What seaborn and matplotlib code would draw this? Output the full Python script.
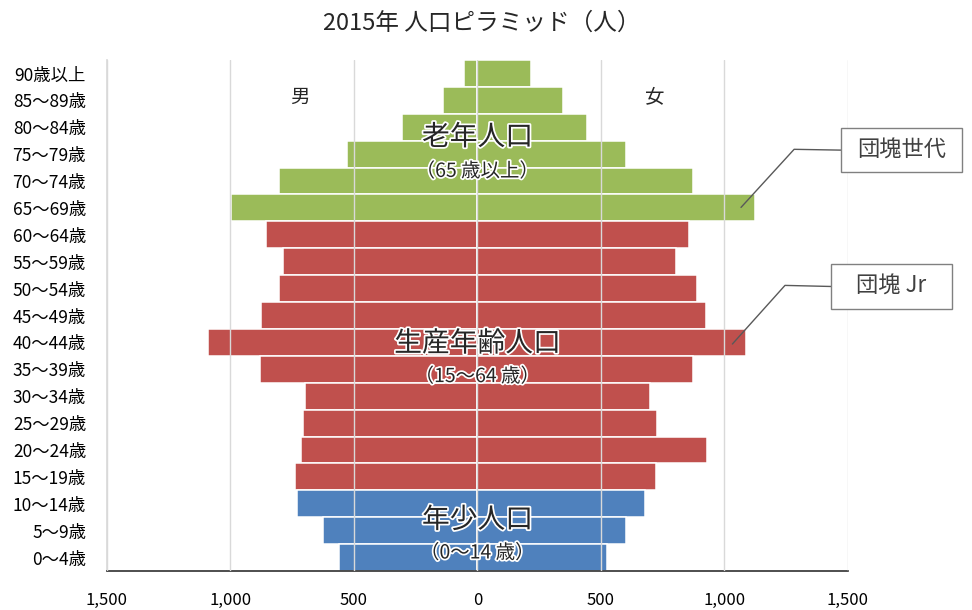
import matplotlib
matplotlib.use('Agg')
import matplotlib.pyplot as plt
import matplotlib.patheffects as pe
from matplotlib.patches import Rectangle
from matplotlib.ticker import FuncFormatter
import pandas as pd
import seaborn as sns

# age classes, top to bottom
ages = ['90歳以上', '85～89歳', '80～84歳', '75～79歳', '70～74歳', '65～69歳',
        '60～64歳', '55～59歳', '50～54歳', '45～49歳', '40～44歳', '35～39歳',
        '30～34歳', '25～29歳', '20～24歳', '15～19歳', '10～14歳', '5～9歳', '0～4歳']
male = [53, 140, 305, 528, 803, 996, 857, 788, 805, 877, 1092, 881,
        700, 708, 716, 740, 732, 627, 562]
female = [216, 347, 442, 603, 873, 1122, 856, 803, 888, 925, 1087, 872,
          698, 727, 929, 723, 678, 601, 525]
groups = ['老年'] * 6 + ['生産'] * 10 + ['年少'] * 3
x_ticks = [-1500, -1000, -500, 0, 500, 1000, 1500]

pal = {'老年': '#9BBB59', '生産': '#C0504D', '年少': '#4F81BD'}

df = pd.DataFrame({'年齢': ages, '男': male, '女': female, '区分': groups})
df['男_neg'] = -df['男']

sns.set_theme(style='white')
plt.rcParams['font.family'] = ['Noto Sans CJK JP', 'DejaVu Sans']

fig = plt.figure(figsize=(9.72, 6.10), dpi=100)
ax = fig.add_axes([0.110, 0.0639, 0.7624, 0.8377])

for col in ['男_neg', '女']:
    sns.barplot(data=df, x=col, y='年齢', hue='区分', palette=pal, order=ages,
                dodge=False, width=1.0, saturation=1, edgecolor='white',
                linewidth=1.1, legend=False, ax=ax)

ax.set_xlim(-1500, 1500)
ax.set_ylim(18.5, -0.5)
ax.set_xticks(x_ticks)
ax.xaxis.set_major_formatter(FuncFormatter(lambda v, p: f'{abs(int(v)):,}'))
ax.set_xlabel('')
ax.set_ylabel('')
ax.tick_params(axis='x', length=0, pad=15, labelsize=12, colors='black')
ax.tick_params(axis='y', length=0, pad=15, labelsize=12.5, colors='black')

ax.set_axisbelow(False)
ax.xaxis.grid(True, color='#D9D9D9', lw=1)
ax.yaxis.grid(False)
for s in ['top', 'right']:
    ax.spines[s].set_visible(False)
ax.spines['left'].set_color('#D9D9D9')
ax.spines['bottom'].set_color('#303030')
ax.spines['bottom'].set_linewidth(1.2)

# title
fig.text(323 / 972, 1 - 23 / 610, '2015年 人口ピラミッド（人）', ha='left', va='center',
         fontsize=17)

# sex labels
ax.text(-720, 0.88, '男', ha='center', va='center', fontsize=14)
ax.text(716, 0.88, '女', ha='center', va='center', fontsize=14)

# group labels with white halo
halo = [pe.withStroke(linewidth=2.5, foreground='white')]
big = [('老年人口', 2.37, '（65 歳以上）', 3.64),
       ('生産年齢人口', 10.04, '（15～64 歳）', 11.27),
       ('年少人口', 16.6, '（0～14 歳）', 17.83)]
for name, y1, sub, y2 in big:
    ax.text(0, y1, name, ha='center', va='center', fontsize=20, path_effects=halo)
    ax.text(0, y2, sub, ha='center', va='center', fontsize=14, path_effects=halo)

# callouts
callouts = [('団塊世代', (1067, 4.98), (1282, 2.82), (1472, 2.03, 489, 1.64)),
            ('団塊 Jr', (1032, 10.06), (1245, 7.88), (1431, 7.10, 490, 1.64))]
for label, tip, elbow, box in callouts:
    bx, by, bw, bh = box
    ax.plot([tip[0], elbow[0], bx], [tip[1], elbow[1], by + bh / 2],
            color='#595959', lw=1, clip_on=False, zorder=4)
    ax.add_patch(Rectangle((bx, by), bw, bh, facecolor='white', edgecolor='#808080',
                           lw=1, clip_on=False, zorder=5))
    ax.text(bx + bw / 2, by + bh / 2, label, ha='center', va='center',
            fontsize=16, color='#404040', zorder=6, clip_on=False)

fig.savefig('out.png', dpi=100)
